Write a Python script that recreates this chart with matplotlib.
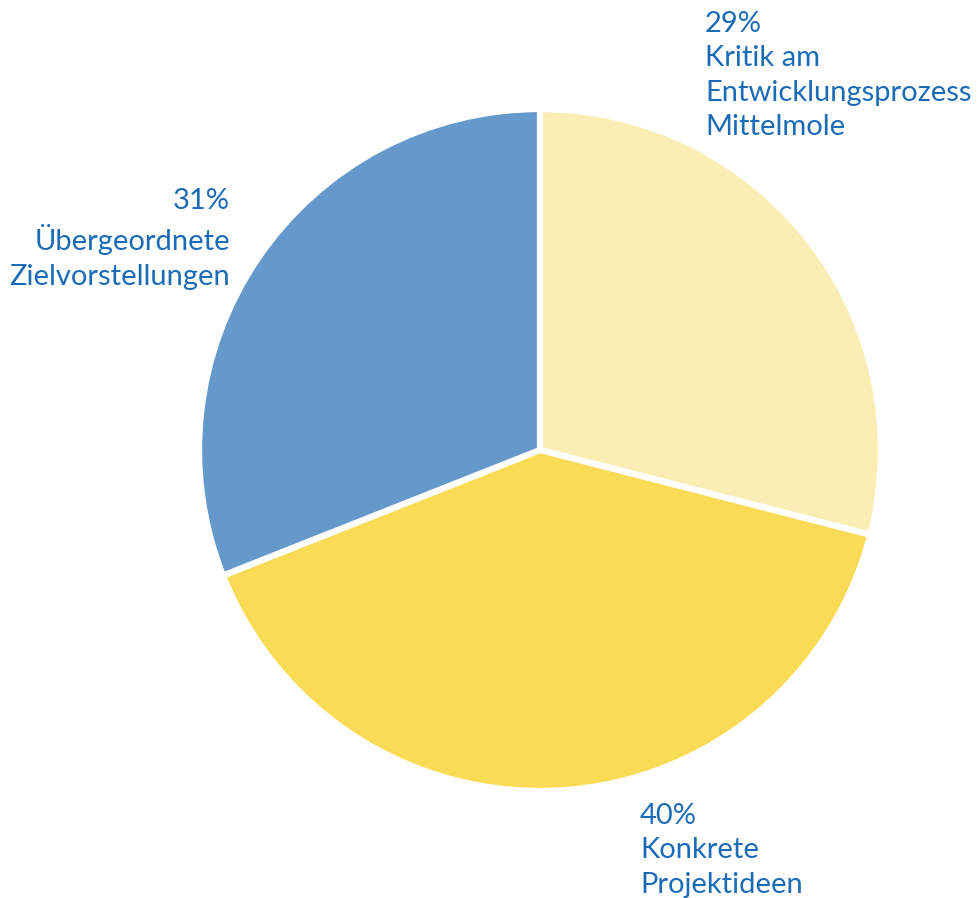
import matplotlib.pyplot as plt

# Data
labels = ["Kritik am\nEntwicklungsprozess\nMittelmole", "Konkrete\nProjektideen", "Übergeordnete\nZielvorstellungen"]
shares = [29, 40, 31]
colors = ["#FAEEB4", "#F9DB55", "#6699CB"]
text_color = "#1B6BB6"

W, H = 978, 898
fig = plt.figure(figsize=(W / 100, H / 100), dpi=100)
ax = fig.add_axes([0, 0, 1, 1])

ax.pie(shares, colors=colors, startangle=90, counterclock=False,
       center=(540, H - 450), radius=341, frame=True,
       wedgeprops=dict(edgecolor="white", linewidth=4.5))

ax.set_xlim(0, W)
ax.set_ylim(0, H)
ax.set_aspect("equal")
ax.axis("off")

font = dict(family=["Lato", "DejaVu Sans"], fontsize=21, color=text_color, linespacing=1.4)

ax.text(705, H - 11, f"{shares[0]}%\n{labels[0]}", ha="left", va="top", **font)
ax.text(230, H - 188, f"{shares[2]}%\n{labels[2]}", ha="right", va="top", multialignment="right", **font)
ax.text(640, H - 803, f"{shares[1]}%\n{labels[1]}", ha="left", va="top", **font)

fig.savefig("out.png", dpi=100)
